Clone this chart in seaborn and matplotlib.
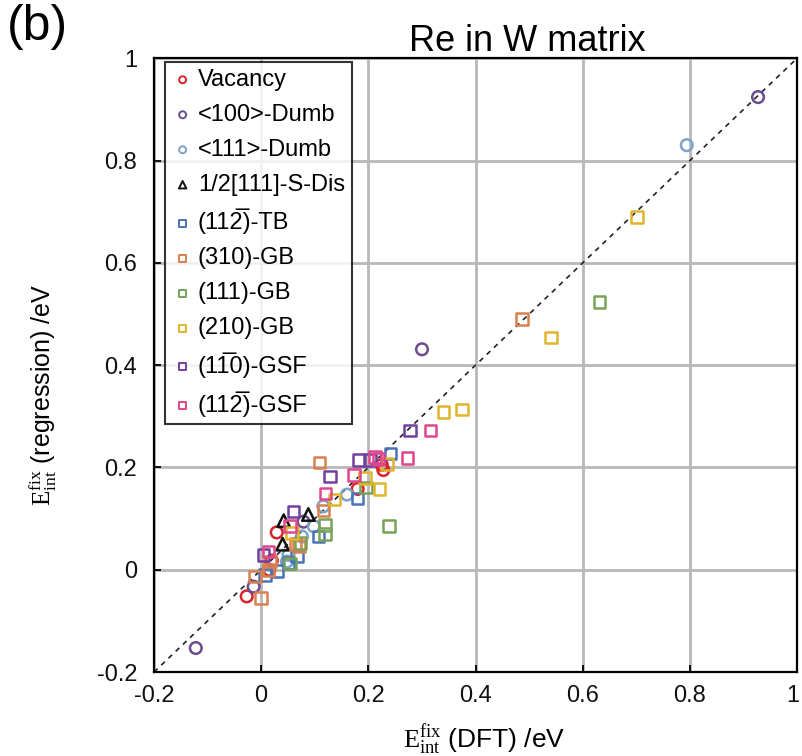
import numpy as np
import pandas as pd
import matplotlib
matplotlib.use("Agg")
import matplotlib.pyplot as plt
import matplotlib.transforms as mtransforms
import seaborn as sns

sns.set_theme(style="white")
plt.rcParams['font.family'] = ['Liberation Sans', 'DejaVu Sans']
plt.rcParams['mathtext.fontset'] = 'custom'
plt.rcParams['mathtext.rm'] = 'Liberation Serif'
plt.rcParams['mathtext.it'] = 'Liberation Serif:italic'
plt.rcParams['mathtext.sf'] = 'Liberation Sans'
plt.rcParams['text.color'] = 'black'
plt.rcParams['axes.labelcolor'] = 'black'

# ---- data ----
vac_x = [-0.027, 0.029, 0.020, 0.015, 0.180, 0.225, 0.228]
vac_y = [-0.052, 0.073, 0.018, 0.000, 0.158, 0.205, 0.195]

d100_x = [0.927, 0.300, -0.122, -0.014, 0.079]
d100_y = [0.924, 0.431, -0.153, -0.033, 0.094]

d111_x = [0.794, 0.160, 0.116, 0.098, 0.076, 0.051, 0.048]
d111_y = [0.830, 0.147, 0.124, 0.085, 0.065, 0.029, 0.016]

sdis_x = [0.042, 0.088, 0.040]
sdis_y = [0.096, 0.108, 0.050]

tb_x = [0.241, 0.180, 0.107, 0.067, 0.029, 0.007, 0.051]
tb_y = [0.227, 0.139, 0.065, 0.026, -0.003, -0.010, 0.013]

gb310_x = [0.487, 0.109, 0.000, 0.116, 0.070, 0.017, 0.014, -0.011, 0.064]
gb310_y = [0.490, 0.210, -0.055, 0.116, 0.046, 0.016, 0.000, -0.013, 0.050]

gb111_x = [0.631, 0.238, 0.195, 0.119, 0.119, 0.054, 0.073]
gb111_y = [0.524, 0.086, 0.161, 0.088, 0.070, 0.012, 0.052]

gb210_x = [0.701, 0.541, 0.340, 0.375, 0.235, 0.221, 0.194, 0.137, 0.057]
gb210_y = [0.690, 0.454, 0.309, 0.313, 0.207, 0.158, 0.180, 0.137, 0.072]

gsf110_x = [0.278, 0.183, 0.203, 0.128, 0.060, 0.004]
gsf110_y = [0.272, 0.215, 0.215, 0.182, 0.114, 0.029]

gsf112_x = [0.316, 0.273, 0.219, 0.173, 0.120, 0.054, 0.014, 0.212]
gsf112_y = [0.272, 0.218, 0.216, 0.185, 0.149, 0.085, 0.036, 0.220]

labels = ['Vacancy', '<100>-Dumb', '<111>-Dumb', '1/2[111]-S-Dis',
          '(112\u0305)-TB', '(310)-GB', '(111)-GB', '(210)-GB',
          '(11\u03050)-GSF', '(112\u0305)-GSF']
xs = [vac_x, d100_x, d111_x, sdis_x, tb_x, gb310_x, gb111_x, gb210_x, gsf110_x, gsf112_x]
ys = [vac_y, d100_y, d111_y, sdis_y, tb_y, gb310_y, gb111_y, gb210_y, gsf110_y, gsf112_y]
colors = ['#d8232a', '#6b4c8e', '#7fa3c6', '#111111', '#4a72b8', '#d9804f',
          '#76a356', '#e0b52a', '#7040a0', '#e0468c']
markers = ['o', 'o', 'o', '^', 's', 's', 's', 's', 's', 's']

ticks = [-0.2, 0, 0.2, 0.4, 0.6, 0.8, 1]
tick_labels = ['-0.2', '0', '0.2', '0.4', '0.6', '0.8', '1']

fig = plt.figure(figsize=(8.02, 7.56), dpi=100)
ax = fig.add_axes([0.192, 0.111, 0.802, 0.812])

ax.plot([-0.2, 1], [-0.2, 1], ls=(0, (3, 3)), color='#222222', lw=1.2, zorder=1)

for lab, x, y, c, m in zip(labels, xs, ys, colors, markers):
    df = pd.DataFrame({'x': x, 'y': y})
    sns.scatterplot(data=df, x='x', y='y', ax=ax, marker=m, s=70 if m != '^' else 80,
                    color=c, facecolors='none', edgecolor=c, linewidth=1.8,
                    label=lab, zorder=3)

ax.set_xlim(-0.2, 1)
ax.set_ylim(-0.2, 1)
ax.set_xticks(ticks)
ax.set_yticks(ticks)
ax.set_xticklabels(tick_labels, fontsize=17)
ax.set_yticklabels(tick_labels, fontsize=17)
ax.grid(True, color='#b8b8b8', lw=2)
ax.set_axisbelow(True)
for sp in ax.spines.values():
    sp.set_color('black')
    sp.set_linewidth(1.6)
ax.tick_params(axis='x', direction='in', length=5, width=1.3, colors='black', pad=9,
               bottom=True, labelcolor='#111111')
ax.tick_params(axis='y', direction='in', length=5, width=1.3, colors='black', pad=12,
               left=True, labelcolor='#111111')
# keep the last x tick label inside the canvas
last = ax.get_xticklabels()[-1]
last.set_transform(last.get_transform() +
                   mtransforms.ScaledTranslation(-4 / 100, 0, fig.dpi_scale_trans))

ax.set_xlabel(r'$\mathrm{E_{int}^{fix}}$ (DFT) /eV', fontsize=19)
ax.xaxis.set_label_coords(0.513, -0.082)
ax.set_ylabel(r'$\mathrm{E_{int}^{fix}}$ (regression) /eV', fontsize=18)
ax.yaxis.set_label_coords(-0.147, 0.451)
ax.set_title('Re in W matrix', fontsize=26, x=0.58, pad=5)
fig.text(0.008, 0.995, '(b)', fontsize=36, va='top', ha='left')

leg = ax.legend(loc='upper left', bbox_to_anchor=(0.017, 0.994), borderaxespad=0,
                fontsize=17, markerscale=0.6, handletextpad=0.2, labelspacing=0.55,
                handlelength=0.9, borderpad=0.3, frameon=True, fancybox=False)
leg.get_frame().set_edgecolor('black')
leg.get_frame().set_linewidth(1.5)
for h in leg.legend_handles:
    h.set_linewidth(1.4)

fig.savefig('out.png', dpi=100)
